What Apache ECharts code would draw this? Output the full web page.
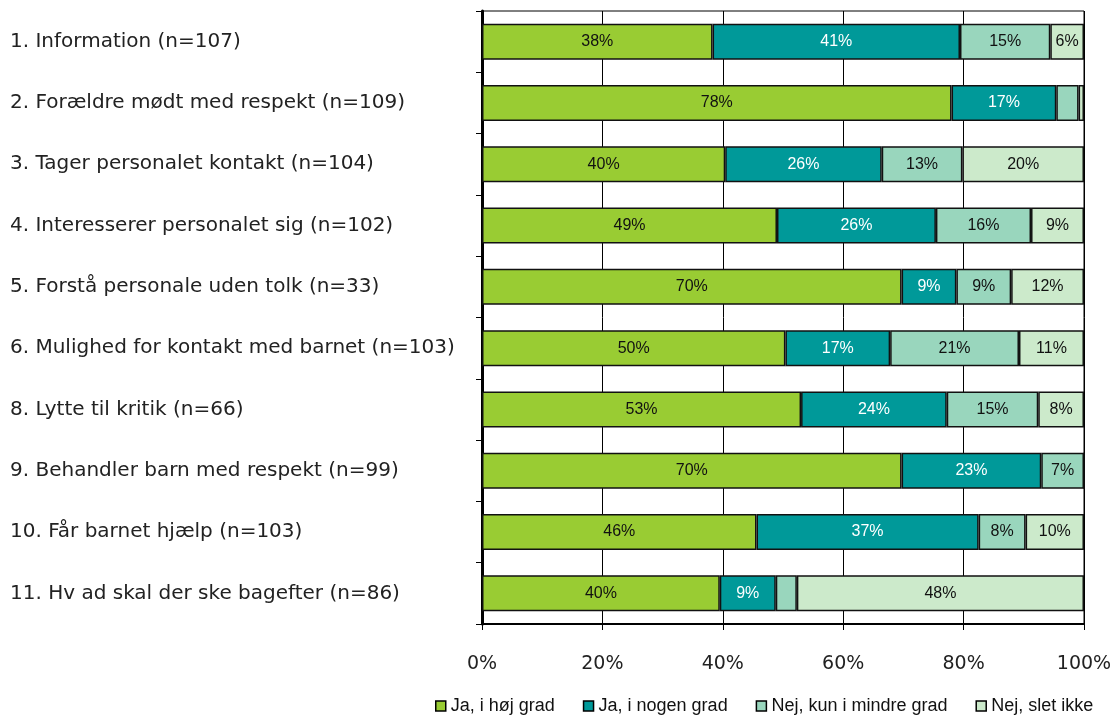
<!DOCTYPE html>
<html><head><meta charset="utf-8">
<script src="https://cdn.jsdelivr.net/npm/echarts@6/dist/echarts.min.js"></script>
<style>html,body{margin:0;padding:0;background:#fff}#c{width:1118px;height:715px}</style>
</head><body><div id="c"></div>
<script>
const categories = [
  "1. Information (n=107)",
  "2. Forældre mødt med respekt (n=109)",
  "3. Tager personalet kontakt (n=104)",
  "4. Interesserer personalet sig (n=102)",
  "5. Forstå personale uden tolk (n=33)",
  "6. Mulighed for kontakt med barnet (n=103)",
  "8. Lytte til kritik (n=66)",
  "9. Behandler barn med respekt (n=99)",
  "10. Får barnet hjælp (n=103)",
  "11. Hv ad skal der ske bagefter (n=86)"
];
const seriesNames = ["Ja, i høj grad", "Ja, i nogen grad", "Nej, kun i mindre grad", "Nej, slet ikke"];
const jaHoej   = [38.3, 78.0, 40.4, 49.0, 69.7, 50.4, 53.0, 69.7, 45.6, 39.5];
const jaNogen  = [41.1, 17.4, 26.0, 26.4,  9.1, 17.4, 24.2, 23.2, 36.9,  9.3];
const nejMindre= [15.0,  3.7, 13.4, 15.8,  9.1, 21.4, 15.2,  7.1,  7.8,  3.5];
const nejSlet  = [ 5.6,  0.9, 20.2,  8.8, 12.1, 10.8,  7.6,  0.0,  9.7, 47.7];
const xTicks = ["0%", "20%", "40%", "60%", "80%", "100%"];

const colors = ["#99cc33", "#009999", "#99d6bd", "#cceacb"];
const labelColors = ["#111", "#fff", "#111", "#111"];
const allData = [jaHoej, jaNogen, nejMindre, nejSlet];

const chart = echarts.init(document.getElementById('c'), null, {renderer: 'canvas'});
chart.setOption({
  animation: false,
  backgroundColor: '#fff',
  grid: {left: 482, top: 11, right: 34, bottom: 91, show: true, borderColor: '#000', borderWidth: 1, backgroundColor: 'transparent'},
  xAxis: {
    type: 'value', min: 0, max: 100, interval: 20,
    axisLine: {show: true, lineStyle: {color: '#000', width: 2}},
    axisTick: {show: true, length: 6, lineStyle: {color: '#000'}},
    splitLine: {show: true, lineStyle: {color: '#000', width: 1}},
    axisLabel: {
      margin: 31, color: '#222', fontFamily: 'DejaVu Sans', fontSize: 19,
      formatter: v => xTicks[Math.round(v / 20)]
    }
  },
  yAxis: {
    type: 'category', data: categories, inverse: true,
    axisLine: {show: true, lineStyle: {color: '#000', width: 3}},
    axisTick: {show: true, length: 6, lineStyle: {color: '#000'}},
    axisLabel: {align: 'left', margin: 472, color: '#222', fontFamily: 'DejaVu Sans', fontSize: 20}
  },
  legend: {
    top: 692, left: 430, itemWidth: 10, itemHeight: 10, itemGap: 28,
    icon: 'rect',
    textStyle: {color: '#111', fontFamily: 'Liberation Sans', fontSize: 18},
    data: seriesNames.map(n => ({name: n, itemStyle: {borderColor: '#000', borderWidth: 1.5}}))
  },
  series: seriesNames.map((name, i) => ({
    name, type: 'bar', stack: 'total', barWidth: 36,
    itemStyle: {color: colors[i], borderColor: '#111', borderWidth: 1.5},
    label: {
      show: true, position: 'inside', color: labelColors[i],
      fontFamily: 'Liberation Sans', fontSize: 16,
      formatter: p => p.value < 5 ? '' : Math.round(p.value) + '%'
    },
    data: allData[i]
  }))
});
</script></body></html>
